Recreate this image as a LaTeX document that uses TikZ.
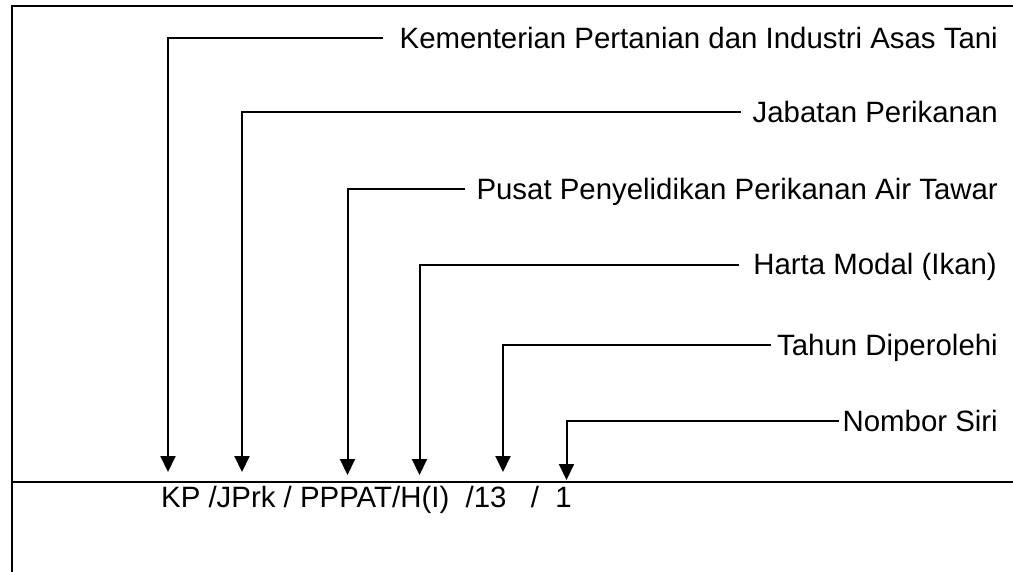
\documentclass[tikz,border=0pt]{standalone}
\usepackage{fontspec}
\setmainfont{Liberation Sans}
\usetikzlibrary{arrows.meta}
\begin{document}
\begin{tikzpicture}[x=1pt,y=-1pt,
  frameline/.style={line width=2pt,line cap=rect},
  arr/.style={line width=2pt,-{Triangle[width=15pt,length=16pt]}},
  lab/.style={anchor=base east,inner sep=0pt,font=\fontsize{29.4}{35}\selectfont},
  code/.style={anchor=base west,inner sep=0pt,font=\fontsize{29.4}{35}\selectfont}]
\useasboundingbox (0,0) rectangle (1013,571);
% frame
\coordinate (ftr) at (1013,6);
\coordinate (ftl) at (11.5,6);
\coordinate (fbl) at (11.5,571);
\coordinate (mr) at (1013,481.5);
\coordinate (ml) at (11.5,481.5);
\draw[frameline] (ftr) -- (ftl) -- (fbl);
\draw[frameline] (ml) -- (mr);
% labels
\node[lab] (k1) at (998,48) {Kementerian Pertanian dan Industri Asas Tani};
\node[lab] (k2) at (998,122) {Jabatan Perikanan};
\node[lab] (k3) at (998,199) {Pusat Penyelidikan Perikanan Air Tawar};
\node[lab] (k4) at (997,274.5) {Harta Modal (Ikan)};
\node[lab] (k5) at (998,355) {Tahun Diperolehi};
\node[lab] (k6) at (998,431) {Nombor Siri};
% arrow tips
\coordinate (t1) at (168,472);
\coordinate (t2) at (242,472);
\coordinate (t3) at (347.5,475);
\coordinate (t4) at (419.5,475);
\coordinate (t5) at (503,472);
\coordinate (t6) at (566.5,480);
% connectors
\draw[arr] (k1.base west) ++(-16,-10) -| (t1);
\draw[arr] (k2.base west) ++(-11,-10) -| (t2);
\draw[arr] (k3.base west) ++(-11,-10) -| (t3);
\draw[arr] (k4.base west) ++(-14,-10) -| (t4);
\draw[arr] (k5.base west) ++(-6,-10) -| (t5);
\draw[arr] (k6.base west) ++(-3,-10) -| (t6);
% code
\node[code] (cd) at (161,507) {KP /JPrk / PPPAT/H(I)\ \ /13\ \ \ /\ \ 1};
\end{tikzpicture}
\end{document}
